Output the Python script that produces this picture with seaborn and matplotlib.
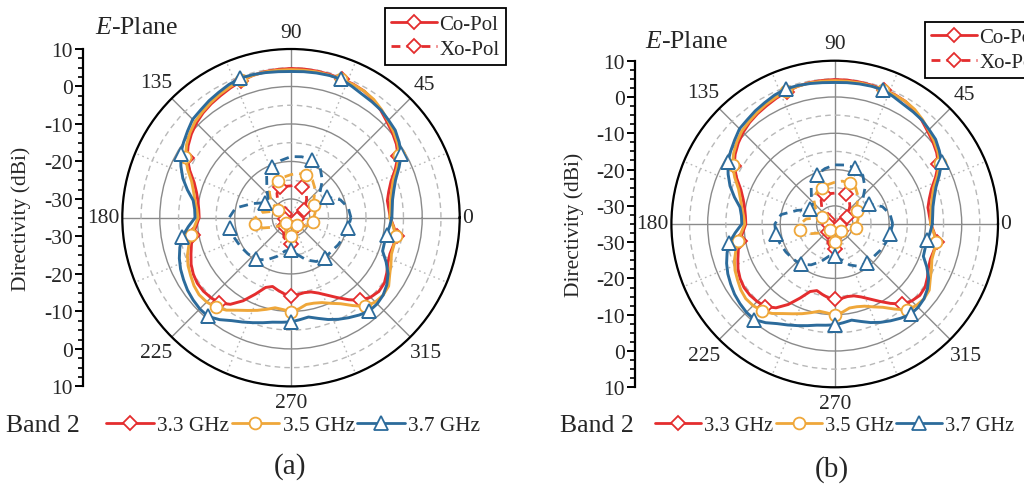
import numpy as np
import pandas as pd
import matplotlib
matplotlib.use("Agg")
import matplotlib.pyplot as plt
import seaborn as sns
from matplotlib.lines import Line2D

# ---------------- data ----------------
angles_co = np.arange(0, 360, 5)     # deg, co-pol sampling
angles_xp = np.arange(0, 360, 10)    # deg, cross-pol sampling

co_33 = [-8.5, -8.8, -8.9, -8.0, -6.6, -4.3, -2.0, -0.7, 0.3, 1.2, 2.3, 3.3,
         4.0, 4.3, 4.4, 4.6, 4.7, 4.8, 4.8, 4.7, 4.6, 4.3, 3.8, 3.2,
         2.6, 2.1, 1.5, 0.7, -0.3, -1.5, -3.0, -5.2, -7.5, -8.9, -9.8, -10.3,
         -10.5, -9.6, -8.4, -7.5, -6.6, -5.6, -4.9, -4.5, -4.5, -4.8, -5.3, -6.8,
         -9.4, -12.5, -15.2, -16.0, -15.3, -14.6, -14.2, -14.4, -14.7, -14.5, -13.6, -12.2,
         -10.4, -8.3, -6.2, -5.0, -4.4, -4.6, -5.5, -6.5, -6.9, -6.7, -6.4, -7.5]
co_35 = [-8.6, -8.4, -8.0, -7.2, -6.0, -3.8, -1.6, -0.3, 0.7, 1.6, 2.6, 3.5,
         4.0, 4.2, 4.3, 4.4, 4.5, 4.5, 4.5, 4.5, 4.5, 4.3, 4.0, 3.5,
         3.0, 2.4, 1.8, 1.2, 0.2, -1.0, -2.5, -4.6, -6.8, -8.1, -9.0, -9.8,
         -10.2, -9.2, -8.0, -6.8, -5.6, -4.7, -4.1, -3.4, -3.0, -3.2, -3.8, -4.9,
         -6.5, -7.7, -8.7, -9.7, -10.6, -10.4, -9.9, -10.6, -11.5, -11.4, -10.9, -9.8,
         -8.5, -6.4, -4.1, -3.2, -2.9, -3.2, -4.6, -5.6, -6.5, -6.6, -6.6, -7.6]
co_37 = [-8.1, -7.9, -7.5, -6.6, -5.3, -3.2, -1.0, 0.2, 1.3, 1.8, 2.4, 2.7,
         3.0, 3.6, 4.3, 4.3, 4.2, 4.1, 4.0, 4.1, 4.3, 4.5, 4.6, 4.2,
         3.6, 3.1, 2.5, 2.1, 1.0, 0.0, -1.0, -2.6, -4.3, -6.4, -8.5, -9.2,
         -9.4, -7.5, -5.5, -4.3, -3.3, -2.5, -1.9, -1.3, -0.9, -0.6, -0.6, -1.8,
         -3.3, -4.3, -5.2, -6.0, -6.7, -7.0, -7.2, -7.7, -8.1, -7.2, -6.1, -5.1,
         -4.2, -3.3, -2.5, -2.5, -2.9, -3.8, -5.1, -7.0, -9.0, -9.2, -9.1, -8.6]

xp_33 = [-33, -32.5, -32, -31, -30, -28.5, -27, -26.2, -26, -26.5,
         -26.5, -26.3, -27.5, -29.5, -31.5, -33, -33.5, -33.5, -33.5, -33.5,
         -33.5, -33, -32.5, -32, -31, -29.5, -28.5, -28, -28.5, -30,
         -31.5, -32.5, -33, -33.5, -33.5, -33.5]
xp_35 = [-29, -28.5, -28, -28, -27, -25, -23.5, -23, -23, -23.5,
         -24, -24.5, -25, -26, -28, -31, -30, -27, -25.5, -25.3,
         -27, -30, -32, -33, -32, -31, -30.5, -30, -30.5, -31.5,
         -32.5, -32.5, -31.5, -30.5, -29.5, -29]
xp_37 = [-19, -19.5, -21, -24, -25, -22, -19.5, -18.5, -18.5, -18.7,
         -19.5, -20.5, -22, -25, -27, -27, -24, -20, -18.5, -18.5,
         -19, -19.5, -20, -20.5, -22, -24, -26, -26.3, -25, -23,
         -21.5, -21, -21, -20.5, -20, -19.5]

freq_labels = ["3.3 GHz", "3.5 GHz", "3.7 GHz"]
pol_labels = ["Co-Pol", "Xo-Pol"]
theta_tick_deg = np.arange(0, 360, 22.5)
theta_label_deg = [0, 45, 90, 135, 180, 225, 270, 315]
r_min, r_max = -35, 10
r_ticks = [-30, -25, -20, -15, -10, -5, 0, 5, 10]
left_tick_pos = [-45, -35, -25, -15, -5, 5, 15, 25, 35, 45]

# ---------------- style / layout ----------------
colors = ["#E42D2E", "#EFA73A", "#2C6B9B"]
markers = ["D", "o", "^"]
msizes = [7.5, 8.5, 9.5]
label_gap_px = [8, 19.5, 17, 22, 19, 22, 16, 22]   # distance of angle labels outside the rim

sns.set_theme(style="white")
plt.rcParams['font.family'] = ['Liberation Serif', 'DejaVu Serif']
plt.rcParams['mathtext.fontset'] = 'custom'
plt.rcParams['mathtext.rm'] = 'Liberation Serif'
plt.rcParams['mathtext.it'] = 'Liberation Serif:italic'

W, H = 1024, 485
fig = plt.figure(figsize=(W / 100, H / 100), dpi=100)
fig.patch.set_facecolor("white")


def closed(angles, vals):
    th = np.deg2rad(np.append(angles, 360))
    r = np.append(np.asarray(vals, float), vals[0])
    return pd.DataFrame({"theta": th, "r": r})


def draw_panel(cx, cy, R, axis_x, tag, tag_xy, eplane_xy, band_xy, leg_top_xy,
               leg_bot_xy, leg_fs):
    ax = fig.add_axes([(cx - R) / W, 1 - (cy + R) / H, 2 * R / W, 2 * R / H],
                      projection="polar")
    ax.set_facecolor("white")
    co_series = [co_33, co_35, co_37]
    xp_series = [xp_33, xp_35, xp_37]
    for i in range(3):
        sns.lineplot(data=closed(angles_co, co_series[i]), x="theta", y="r", ax=ax,
                     color=colors[i], linewidth=2.1, marker=markers[i],
                     markevery=(6, 8), markersize=msizes[i],
                     markerfacecolor="white", markeredgecolor=colors[i],
                     markeredgewidth=1.3, estimator=None, sort=False, legend=False,
                     zorder=3 + i)
    for i in range(3):
        sns.lineplot(data=closed(angles_xp, xp_series[i]), x="theta", y="r", ax=ax,
                     color=colors[i], linewidth=2.0, linestyle=(0, (3.2, 2.2)),
                     marker=markers[i], markevery=(3, 4), markersize=msizes[i],
                     markerfacecolor="white", markeredgecolor=colors[i],
                     markeredgewidth=1.3, estimator=None, sort=False, legend=False,
                     zorder=3 + i)
    ax.set_xlabel("")
    ax.set_ylabel("")
    ax.set_ylim(r_min, r_max)
    ax.set_yticks(r_ticks)
    ax.set_yticklabels([])
    ax.set_xticks(np.deg2rad(theta_tick_deg))
    ax.set_xticklabels([])
    ax.tick_params(axis="x", length=0)
    ax.grid(True)
    for d, tk in zip(theta_tick_deg, ax.xaxis.get_major_ticks()):
        if d % 45 == 0:
            tk.gridline.set(color="#8a8a8a", linestyle="-", linewidth=1.0)
        else:
            tk.gridline.set(color="#b8b8b8", linestyle=(0, (1.2, 2.5)), linewidth=1.0)
    for rv, tk in zip(r_ticks, ax.yaxis.get_major_ticks()):
        if rv % 10 == 0:
            tk.gridline.set(color="#8a8a8a", linestyle="-", linewidth=1.0)
        else:
            tk.gridline.set(color="#b8b8b8", linestyle=(0, (4, 3)), linewidth=1.0)
    ax.set_axisbelow(True)
    ax.spines["polar"].set_color("black")
    ax.spines["polar"].set_linewidth(1.6)

    # angle labels outside the rim
    px_per_db = R / (r_max - r_min)
    for d, gap in zip(theta_label_deg, label_gap_px):
        ax.text(np.deg2rad(d), r_max + gap / px_per_db, str(d), fontsize=15.5,
                ha="center", va="center", clip_on=False)

    # mirrored radial scale on the left
    lax = fig.add_axes([axis_x / W, 1 - (cy + R) / H, 0.001, 2 * R / H])
    lax.set_facecolor("none")
    lax.set_ylim(-45, 45)
    for s in ["top", "right", "bottom"]:
        lax.spines[s].set_visible(False)
    lax.spines["left"].set_color("black")
    lax.spines["left"].set_linewidth(1.6)
    lax.set_xticks([])
    lax.set_yticks(left_tick_pos)
    lax.set_yticklabels([str(int(abs(p) + r_min)) for p in left_tick_pos], fontsize=15.5)
    lax.set_yticks(np.arange(-45, 45.1, 2.5), minor=True)
    lax.tick_params(axis="y", which="major", direction="out", length=6, width=1.4,
                    pad=1.5, left=True, color="black")
    lax.tick_params(axis="y", which="minor", direction="out", length=3.5, width=1.2,
                    left=True, color="black")
    lax.set_ylabel("Directivity (dBi)", fontsize=15.5, labelpad=9)

    fig.text(eplane_xy[0] / W, 1 - eplane_xy[1] / H, r"$\mathit{E}$-Plane",
             fontsize=18.5, va="center", ha="left")
    fig.text(band_xy[0] / W, 1 - band_xy[1] / H, "Band 2",
             fontsize=18.5, va="center", ha="left")
    fig.text(tag_xy[0] / W, 1 - tag_xy[1] / H, tag,
             fontsize=21, va="center", ha="center")

    pol_handles = [
        Line2D([], [], color=colors[0], lw=2.0, marker="D", ms=7.5, mfc="white",
               mec=colors[0], mew=1.3),
        Line2D([], [], color=colors[0], lw=2.0, ls=(0, (3.2, 2.2)), marker="D", ms=7.5,
               mfc="white", mec=colors[0], mew=1.3),
    ]
    lg = fig.legend(handles=pol_handles, labels=pol_labels, loc="upper left",
                    bbox_to_anchor=(leg_top_xy[0] / W, 1 - leg_top_xy[1] / H),
                    frameon=True, fancybox=False, edgecolor="black", framealpha=1,
                    fontsize=15, handlelength=2.2, handletextpad=0.1,
                    labelspacing=0.25, borderpad=0.3, borderaxespad=0)
    lg.get_frame().set_linewidth(1.3)

    f_handles = [Line2D([], [], color=colors[i], lw=2.0, marker=markers[i],
                        ms=msizes[i], mfc="white", mec=colors[i], mew=1.3)
                 for i in range(3)]
    fig.legend(handles=f_handles, labels=freq_labels, loc="center left", ncol=3,
               bbox_to_anchor=(leg_bot_xy[0] / W, 1 - leg_bot_xy[1] / H),
               frameon=False, fontsize=leg_fs, handlelength=2.25, handletextpad=0.15,
               columnspacing=0.12, borderaxespad=0, borderpad=0)


draw_panel(291, 218.7, 168.7, 83, "(a)", (290, 467), (95, 28), (6, 426),
           (385, 9), (106, 426), 15.3)
draw_panel(834.7, 225, 163.3, 635.3, "(b)", (832, 470), (645, 41.5), (560, 426),
           (925, 22.5), (655, 426), 14.7)

fig.savefig("out.png", dpi=100, facecolor="white")
